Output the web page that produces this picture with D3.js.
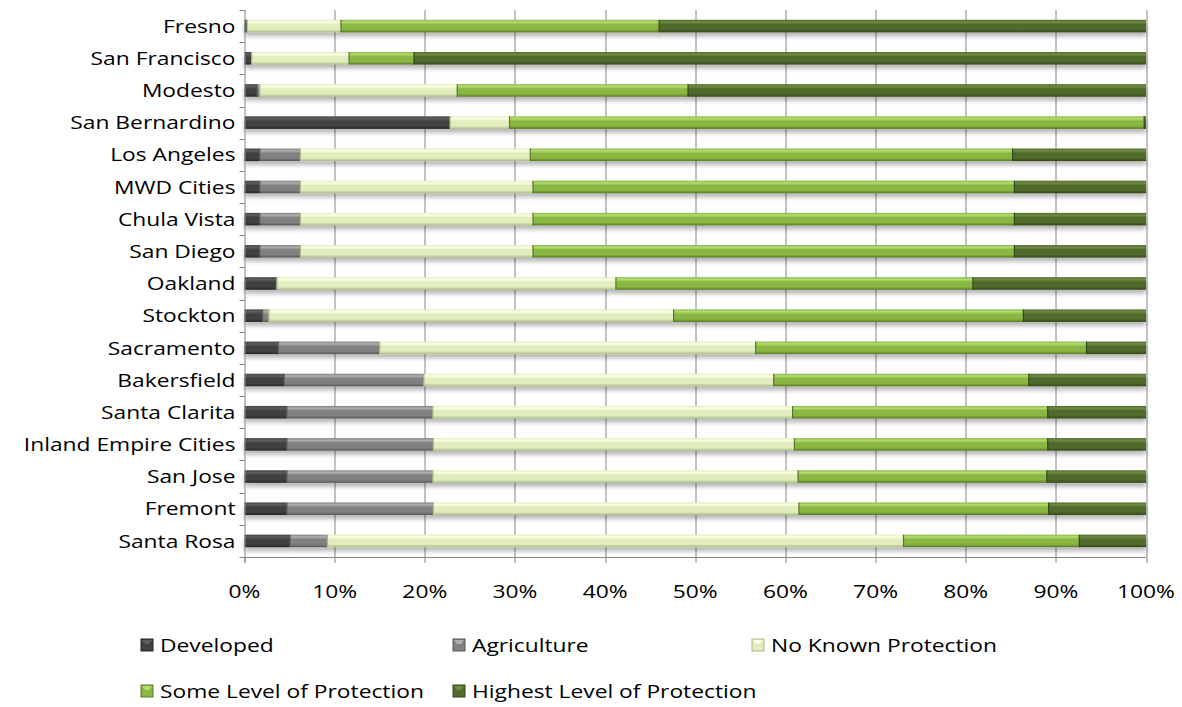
<!DOCTYPE html>
<html>
<head>
<meta charset="utf-8">
<script src="https://cdn.jsdelivr.net/npm/d3@7"></script>
<style>
  body { margin: 0; background: #fff; }
  text { font-family: "Open Sans", "Liberation Sans", sans-serif; fill: #000; }
</style>
</head>
<body>
<div id="chart"></div>
<script>
// categories, top to bottom
var cities = ["Fresno", "San Francisco", "Modesto", "San Bernardino", "Los Angeles",
  "MWD Cities", "Chula Vista", "San Diego", "Oakland", "Stockton", "Sacramento",
  "Bakersfield", "Santa Clarita", "Inland Empire Cities", "San Jose", "Fremont", "Santa Rosa"];

var seriesNames = ["Developed", "Agriculture", "No Known Protection",
  "Some Level of Protection", "Highest Level of Protection"];

// percent shares per city (same order as cities)
var developed   = [0.3, 0.8, 1.4, 22.8, 1.7, 1.7, 1.7, 1.7, 3.5, 2.0, 3.75, 4.4, 4.7, 4.7, 4.7, 4.7, 5.05];
var agriculture = [0, 0, 0.3, 0, 4.5, 4.5, 4.5, 4.5, 0.1, 0.7, 11.25, 15.5, 16.2, 16.25, 16.2, 16.25, 4.15];
var noKnown     = [10.4, 10.8, 21.9, 6.6, 25.5, 25.8, 25.8, 25.8, 37.6, 44.9, 41.7, 38.8, 39.9, 40.05, 40.5, 40.55, 63.9];
var someLevel   = [35.3, 7.2, 25.6, 70.4, 53.5, 53.4, 53.4, 53.4, 39.6, 38.8, 36.7, 28.3, 28.3, 28.1, 27.6, 27.7, 19.5];
var highest     = [54.0, 81.2, 50.8, 0.2, 14.8, 14.6, 14.6, 14.6, 19.2, 13.6, 6.6, 13.0, 10.9, 10.9, 11.0, 10.8, 7.4];

var xTicks = [0, 10, 20, 30, 40, 50, 60, 70, 80, 90, 100];

// shading for each series: highlight, base, dark edge
var shades = [
  ["#5e5e5e", "#414141", "#262626"],
  ["#b0b0b0", "#818181", "#575757"],
  ["#fdfee6", "#e2edbe", "#a9bb86"],
  ["#b6dc74", "#89b743", "#587827"],
  ["#6f8c44", "#4f6a2a", "#34471b"]
];

var W = 1182, H = 707;
var margin = {top: 10, left: 244.5, right: 36, bottom: 150};
var width = W - margin.left - margin.right,
    height = H - margin.top - margin.bottom;
var fontSize = "19px", stretch = 1.2;   // reference text is drawn wide

var svg = d3.select("#chart").append("svg")
    .attr("width", W)
    .attr("height", H);

var defs = svg.append("defs");
var shadow = defs.append("filter").attr("id", "shadow")
    .attr("x", "-2%").attr("y", "-50%").attr("width", "104%").attr("height", "220%");
shadow.append("feDropShadow")
    .attr("dx", 0).attr("dy", 4).attr("stdDeviation", 2.2)
    .attr("flood-color", "#000").attr("flood-opacity", 0.28);

shades.forEach(function(s, i) {
  var g = defs.append("linearGradient").attr("id", "grad" + i)
      .attr("x1", 0).attr("y1", 0).attr("x2", 0).attr("y2", 1);
  g.append("stop").attr("offset", "0%").attr("stop-color", s[1]);
  g.append("stop").attr("offset", "18%").attr("stop-color", s[0]);
  g.append("stop").attr("offset", "38%").attr("stop-color", s[1]);
  g.append("stop").attr("offset", "76%").attr("stop-color", s[1]);
  g.append("stop").attr("offset", "100%").attr("stop-color", s[2]);
});

var chart = svg.append("g")
    .attr("transform", "translate(" + margin.left + "," + margin.top + ")");

var x = d3.scaleLinear().domain([0, 100]).range([0, width]);
var y = d3.scaleBand().domain(cities).range([0, height]).paddingInner(0.61).paddingOuter(0.305);
var yb = d3.scaleBand().domain(cities).range([0, height]);

// vertical gridlines
chart.append("g").selectAll("line")
  .data(xTicks.slice(1))
  .enter().append("line")
    .attr("x1", function(d) { return Math.round(x(d)) + 0.5; })
    .attr("x2", function(d) { return Math.round(x(d)) + 0.5; })
    .attr("y1", 0).attr("y2", height)
    .attr("stroke", "#868686").attr("stroke-width", 1);

// build rows
var data = cities.map(function(c, i) {
  return {city: c, vals: [developed[i], agriculture[i], noKnown[i], someLevel[i], highest[i]]};
});
var segs = [];
data.forEach(function(d) {
  var acc = 0;
  d.vals.forEach(function(v, k) {
    segs.push({city: d.city, k: k, x0: acc, x1: acc + v});
    acc += v;
  });
});

var bars = chart.append("g").attr("filter", "url(#shadow)");
bars.selectAll("rect")
  .data(segs.filter(function(s) { return s.x1 > s.x0; }))
  .enter().append("rect")
    .attr("x", function(d) { return x(d.x0); })
    .attr("y", function(d) { return y(d.city); })
    .attr("width", function(d) { return Math.max(0.6, x(d.x1) - x(d.x0)); })
    .attr("height", y.bandwidth())
    .attr("fill", function(d) { return "url(#grad" + d.k + ")"; });

// thin dark edge at each segment start
bars.selectAll("line.edge")
  .data(segs.filter(function(s) { return s.x1 > s.x0 && s.x0 > 0; }))
  .enter().append("line").attr("class", "edge")
    .attr("x1", function(d) { return x(d.x0); })
    .attr("x2", function(d) { return x(d.x0); })
    .attr("y1", function(d) { return y(d.city); })
    .attr("y2", function(d) { return y(d.city) + y.bandwidth(); })
    .attr("stroke", function(d) { return shades[d.k][2]; })
    .attr("stroke-width", 1.2);

// left axis with outward ticks on band boundaries
var yAxis = chart.append("g");
yAxis.append("line")
    .attr("x1", 0.5).attr("x2", 0.5).attr("y1", 0).attr("y2", height + 6)
    .attr("stroke", "#868686");
yAxis.selectAll("line.tk")
  .data(cities.concat(["end"]))
  .enter().append("line").attr("class", "tk")
    .attr("x1", -5).attr("x2", 0.5)
    .attr("y1", function(d, i) { return Math.round(i * yb.step()) + 0.5; })
    .attr("y2", function(d, i) { return Math.round(i * yb.step()) + 0.5; })
    .attr("stroke", "#868686");
yAxis.selectAll("text")
  .data(cities)
  .enter().append("text")
    .attr("transform", function(d) {
      return "translate(-9," + (yb(d) + yb.bandwidth() / 2) + ") scale(" + stretch + ",1)";
    })
    .attr("dy", "0.35em")
    .attr("text-anchor", "end")
    .style("font-size", fontSize)
    .text(function(d) { return d; });

// bottom axis
var xAxis = chart.append("g").attr("transform", "translate(0," + height + ")");
xAxis.append("line")
    .attr("x1", 0).attr("x2", width).attr("y1", 0.5).attr("y2", 0.5)
    .attr("stroke", "#868686");
xAxis.selectAll("line.tk")
  .data(xTicks)
  .enter().append("line").attr("class", "tk")
    .attr("x1", function(d) { return Math.round(x(d)) + 0.5; })
    .attr("x2", function(d) { return Math.round(x(d)) + 0.5; })
    .attr("y1", 0).attr("y2", 6)
    .attr("stroke", "#868686");
xAxis.selectAll("text")
  .data(xTicks)
  .enter().append("text")
    .attr("transform", function(d) { return "translate(" + x(d) + ",41) scale(" + stretch + ",1)"; })
    .attr("text-anchor", "middle")
    .style("font-size", fontSize)
    .text(function(d) { return d + "%"; });

// legend
var legendPos = [[141, 645], [453, 645], [752, 645], [141, 691], [453, 691]];
var legend = svg.append("g");
seriesNames.forEach(function(name, i) {
  var g = legend.append("g").attr("transform", "translate(" + legendPos[i][0] + "," + legendPos[i][1] + ")");
  g.append("rect").attr("x", 0).attr("y", -6).attr("width", 12).attr("height", 12)
    .attr("fill", shades[i][1]).attr("stroke", shades[i][2]).attr("stroke-width", 1);
  g.append("path").attr("d", "M1,-5 L11,-5 L8,-1 L4,-1 Z").attr("fill", shades[i][0]);
  g.append("text")
    .attr("transform", "translate(19,0) scale(" + stretch + ",1)")
    .attr("dy", "0.35em")
    .style("font-size", fontSize).text(name);
});
</script>
</body>
</html>
